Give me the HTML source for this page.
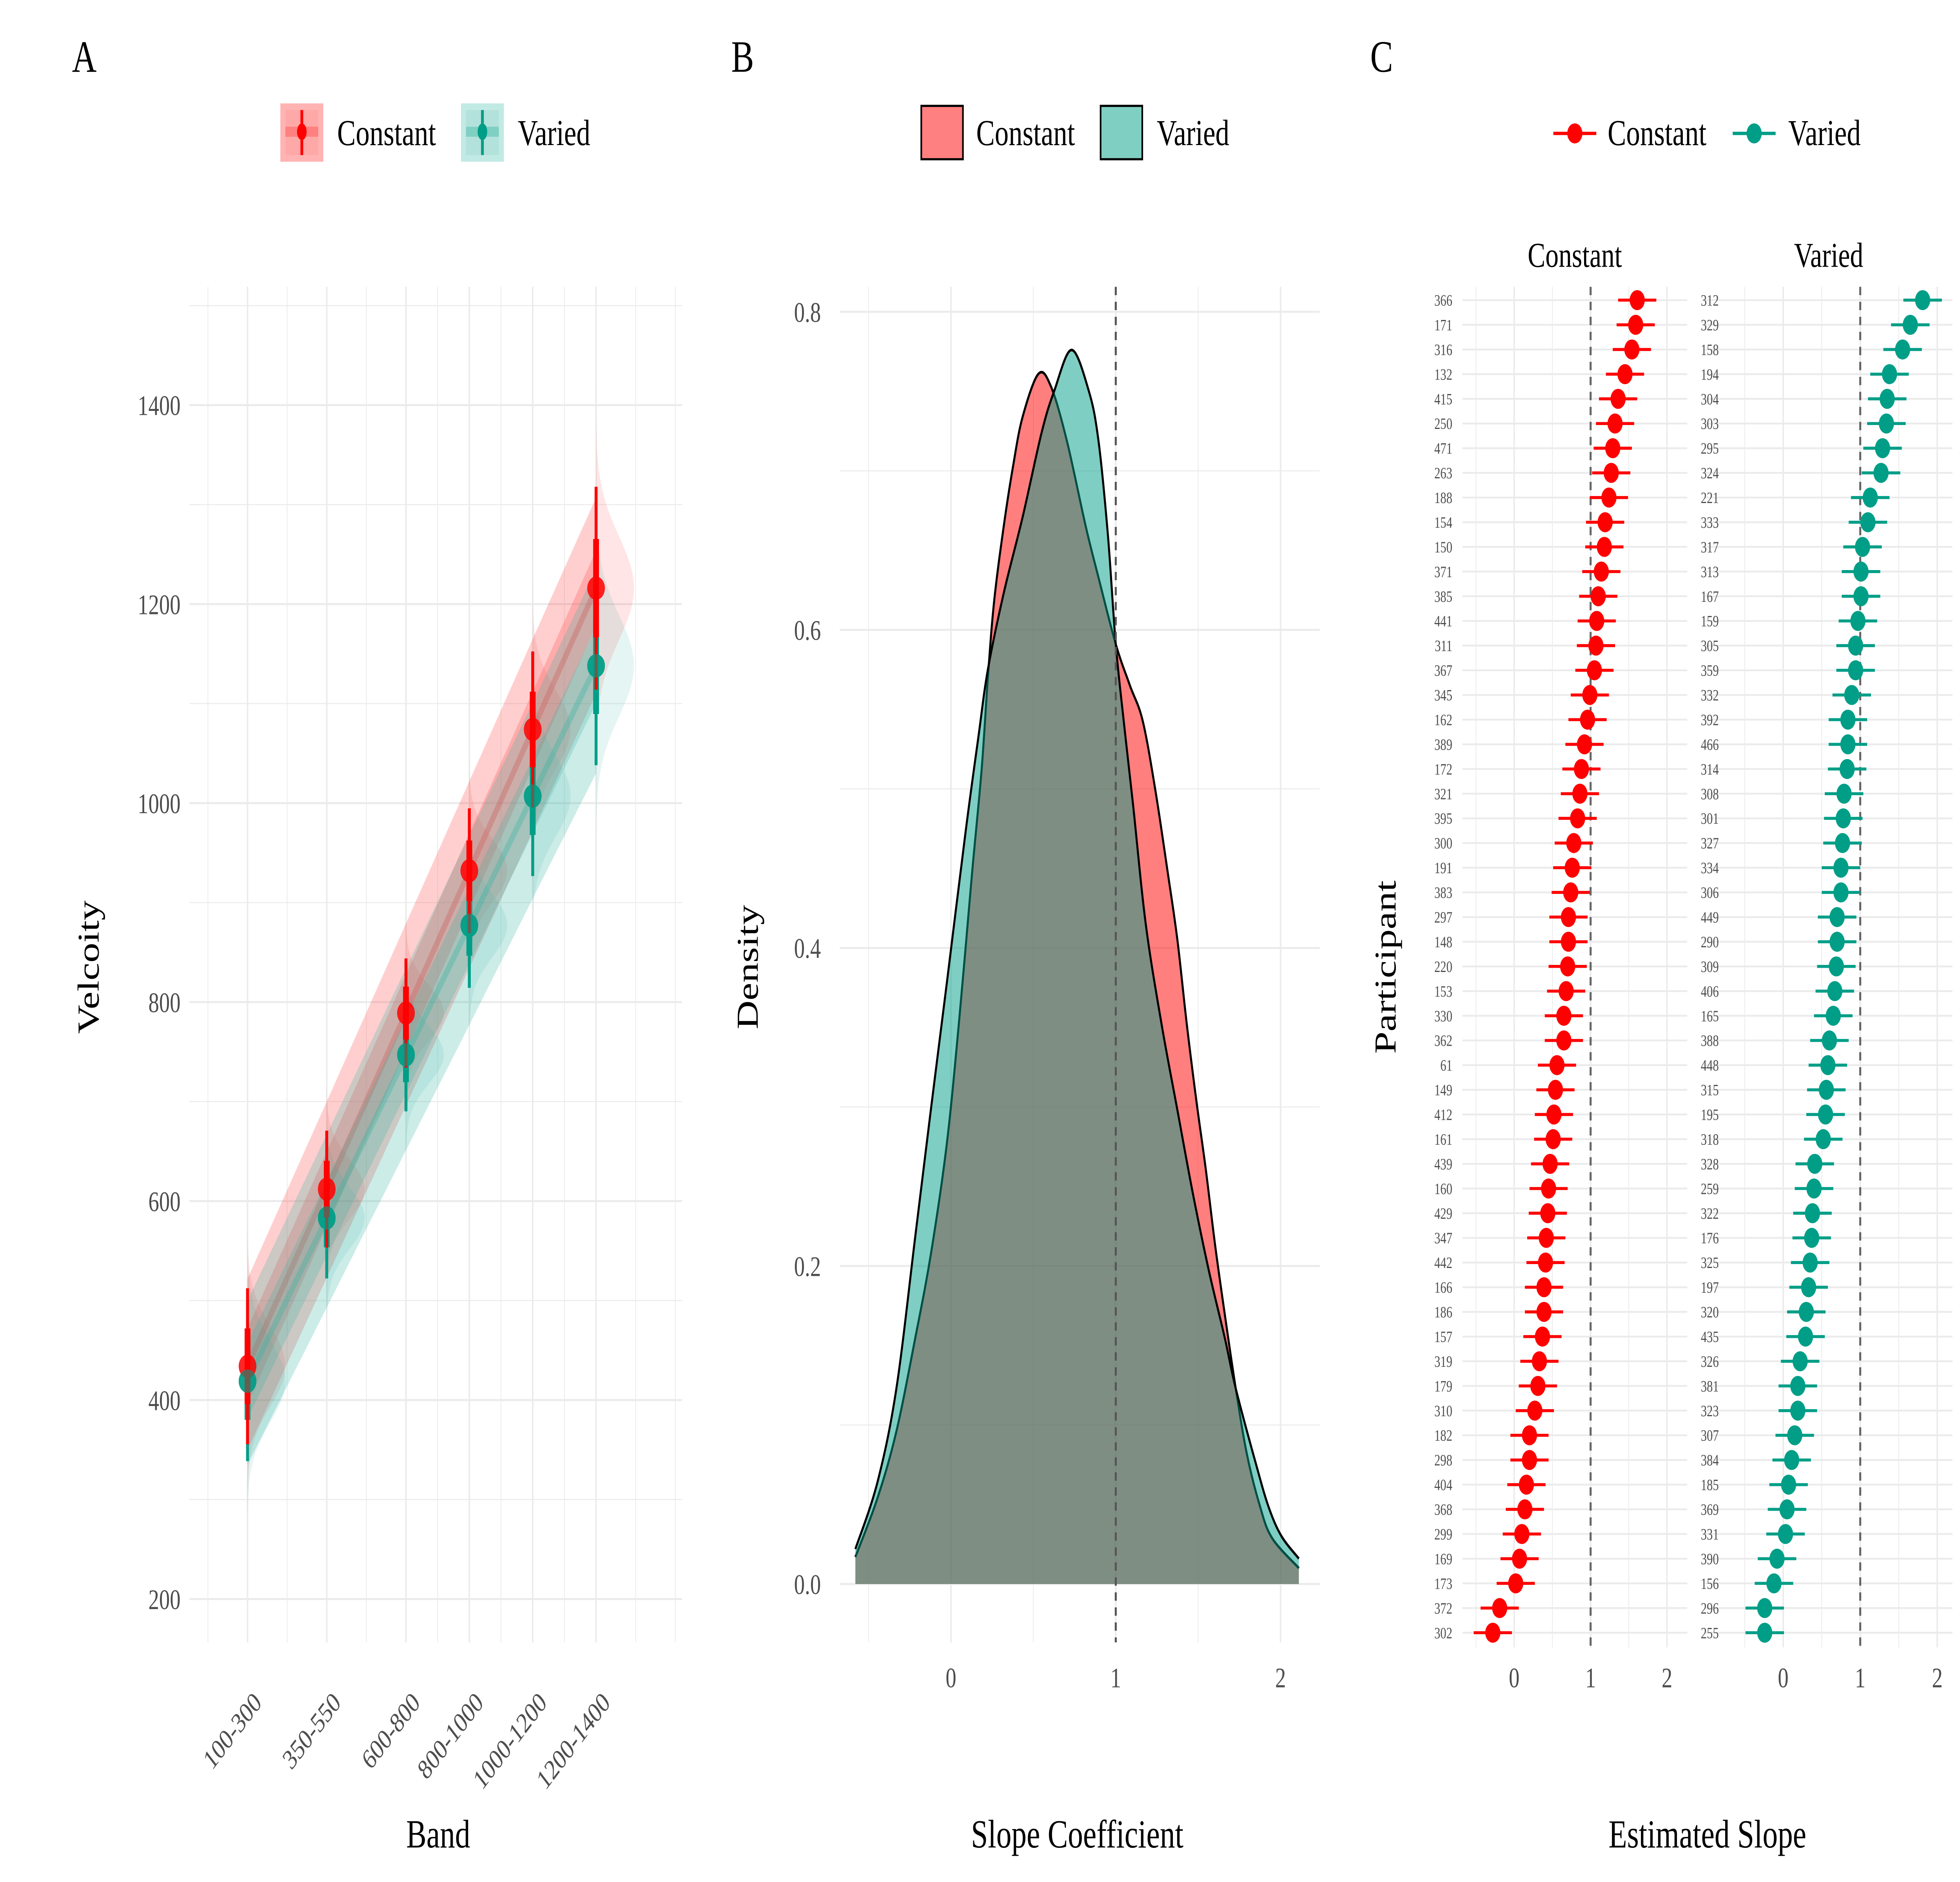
<!DOCTYPE html>
<html><head><meta charset="utf-8">
<style>
html,body{margin:0;padding:0;background:#fff;overflow:hidden;width:100%;height:100%;}
svg{display:block;width:100vw;height:100vh;}
text{font-family:"Liberation Serif","DejaVu Serif",serif;}
</style></head>
<body>
<svg id="fig" xmlns="http://www.w3.org/2000/svg" viewBox="0 0 1552 1128.7" preserveAspectRatio="none">
<rect x="0" y="0" width="1552" height="1128.7" fill="#fff"/>
<g id="panelA"></g>
<g id="panelB"></g>
<g id="panelC"></g>

<text x="57" y="43" font-size="27">A</text>
<text x="579" y="43" font-size="27">B</text>
<text x="1085" y="43" font-size="27">C</text>

<g>
 <g>
  <rect x="222" y="62" width="34" height="35" fill="#FFB3B3"/>
  <rect x="226" y="66" width="26" height="27" fill="#FFA8A8"/>
  <rect x="226" y="76" width="26" height="6" fill="#FF8080"/>
  <line x1="239" y1="66" x2="239" y2="93" stroke="#FF0000" stroke-width="2.2"/>
  <ellipse cx="239" cy="79" rx="3.8" ry="5" fill="#FF0000"/>
  <text x="267" y="87" font-size="22">Constant</text>
 </g>
 <g>
  <rect x="365" y="62" width="34" height="35" fill="#C2EAE4"/>
  <rect x="369" y="66" width="26" height="27" fill="#B2E2DB"/>
  <rect x="369" y="76" width="26" height="6" fill="#80CFC3"/>
  <line x1="382" y1="66" x2="382" y2="93" stroke="#009E87" stroke-width="2.2"/>
  <ellipse cx="382" cy="79" rx="3.8" ry="5" fill="#009E87"/>
  <text x="410" y="87" font-size="22">Varied</text>
 </g>
</g>
<g>
 <g>
  <rect x="729.5" y="63.5" width="33" height="32" fill="#FF8080" stroke="#000" stroke-width="1.3"/>
  <text x="773" y="87" font-size="22">Constant</text>
 </g>
 <g>
  <rect x="871.5" y="63.5" width="33" height="32" fill="#80CFC3" stroke="#000" stroke-width="1.3"/>
  <text x="916" y="87" font-size="22">Varied</text>
 </g>
</g>
<g>
 <g>
  <line x1="1230" y1="80" x2="1264" y2="80" stroke="#FF0000" stroke-width="2"/>
  <circle cx="1247" cy="80" r="6" fill="#FF0000"/>
  <text x="1273" y="87" font-size="22">Constant</text>
 </g>
 <g>
  <line x1="1372" y1="80" x2="1406" y2="80" stroke="#009E87" stroke-width="2"/>
  <circle cx="1389" cy="80" r="6" fill="#009E87"/>
  <text x="1416" y="87" font-size="22">Varied</text>
 </g>
</g>
</svg>

<script>
// ---------------- Panel A data ----------------
const bandLabels = ["100-300","350-550","600-800","800-1000","1000-1200","1200-1400"];
const bandMid = [200,450,700,900,1100,1300];
const conMeans = [434,612,789,932,1074,1216];
const varMeans = [419,583,747,877,1007,1138];
const conSd = [40,30,28,32,40,52];
const varSd = [41,31,29,32,41,51];
const conRibLo = [350,523,696,834,972,1110];
const conRibHi = [522,700,879,1022,1165,1307];
const varRibLo = [335,493,651,777,904,1030];
const varRibHi = [500,667,834,968,1101,1235];
const aYTicks = [200,400,600,800,1000,1200,1400];

// ---------------- Panel B data ----------------
const bXTicks = [0,1,2];
const bYTicks = [0.0,0.2,0.4,0.6,0.8];
const conDensX = [-0.58,-0.446,-0.331,-0.216,-0.121,-0.025,0.052,0.128,0.186,0.224,0.262,0.320,0.377,0.435,0.531,0.607,0.703,0.818,0.895,1.0,1.086,1.163,1.239,1.316,1.374,1.431,1.489,1.546,1.603,1.661,1.728,1.795,1.872,1.948,2.111];
const conDensY = [0.017,0.054,0.096,0.155,0.208,0.277,0.357,0.447,0.512,0.570,0.618,0.665,0.703,0.734,0.761,0.753,0.719,0.665,0.633,0.591,0.565,0.543,0.500,0.447,0.405,0.352,0.304,0.261,0.213,0.170,0.123,0.082,0.050,0.029,0.010];
const varDensX = [-0.58,-0.446,-0.331,-0.216,-0.121,-0.025,0.090,0.167,0.224,0.320,0.435,0.550,0.626,0.732,0.837,0.895,0.952,1.0,1.048,1.105,1.182,1.278,1.374,1.469,1.565,1.661,1.728,1.852,1.929,2.006,2.111];
const varDensY = [0.022,0.064,0.123,0.219,0.299,0.378,0.474,0.533,0.575,0.623,0.671,0.724,0.750,0.776,0.750,0.719,0.660,0.591,0.543,0.490,0.415,0.352,0.298,0.245,0.197,0.155,0.123,0.075,0.048,0.030,0.016];

// ---------------- Panel C data ----------------
const conIds = ["366","171","316","132","415","250","471","263","188","154","150","371","385","441","311","367","345","162","389","172","321","395","300","191","383","297","148","220","153","330","362","61","149","412","161","439","160","429","347","442","166","186","157","319","179","310","182","298","404","368","299","169","173","372","302"];
const conSlopes = [1.61,1.59,1.54,1.45,1.36,1.32,1.29,1.27,1.24,1.19,1.18,1.14,1.10,1.08,1.07,1.05,0.99,0.96,0.92,0.88,0.86,0.83,0.78,0.76,0.74,0.71,0.71,0.70,0.68,0.65,0.65,0.56,0.54,0.52,0.51,0.47,0.45,0.44,0.42,0.41,0.39,0.39,0.37,0.33,0.31,0.27,0.20,0.20,0.16,0.14,0.10,0.07,0.02,-0.19,-0.28];
const varIds = ["312","329","158","194","304","303","295","324","221","333","317","313","167","159","305","359","332","392","466","314","308","301","327","334","306","449","290","309","406","165","388","448","315","195","318","328","259","322","176","325","197","320","435","326","381","323","307","384","185","369","331","390","156","296","255"];
const varSlopes = [1.81,1.65,1.55,1.38,1.35,1.34,1.29,1.27,1.13,1.10,1.03,1.01,1.01,0.97,0.94,0.94,0.89,0.84,0.84,0.83,0.79,0.78,0.77,0.75,0.75,0.70,0.70,0.69,0.67,0.65,0.60,0.58,0.56,0.55,0.52,0.41,0.40,0.38,0.37,0.35,0.33,0.30,0.29,0.22,0.19,0.19,0.15,0.11,0.07,0.05,0.03,-0.08,-0.12,-0.24,-0.24];
const cHalfWidth = 0.25;
const cXTicks = [0,1,2];

const NS = "http://www.w3.org/2000/svg";
function mk(parent, tag, attrs, txt){
  const e = document.createElementNS(NS, tag);
  for (const k in attrs) e.setAttribute(k, attrs[k]);
  if (txt !== undefined) e.textContent = txt;
  parent.appendChild(e);
  return e;
}
const GRID = "#EBEBEB", TICK = "#4D4D4D", RED = "#FF0000", TEAL = "#009E87";

// ================= PANEL A =================
(function(){
  const g = document.getElementById('panelA');
  const xA = v => 196 + (v - 200) * 0.2509;
  const yA = v => 959 - (v - 200) * 0.5967;
  const L = 150, R = 540, T = 172, B = 985;
  [75,325,575,800,1000,1200,1425,1550].forEach(v=>{
    const l = mk(g,'line',{x1:xA(v),x2:xA(v),y1:T,y2:B,stroke:GRID,'stroke-width':0.6});
    
    
  });
  [300,500,700,900,1100,1300,1500].forEach(v=>{
    const l = mk(g,'line',{x1:L,x2:R,y1:yA(v),y2:yA(v),stroke:GRID,'stroke-width':0.6});
    
    
  });
  bandMid.forEach(v=>{
    const l = mk(g,'line',{x1:xA(v),x2:xA(v),y1:T,y2:B,stroke:GRID,'stroke-width':1.2});
    
    
  });
  aYTicks.forEach(v=>{
    const l = mk(g,'line',{x1:L,x2:R,y1:yA(v),y2:yA(v),stroke:GRID,'stroke-width':1.2});
    
    
    const t = mk(g,'text',{x:143,y:yA(v)+6,'text-anchor':'end','font-size':17,fill:TICK},String(v));
    
    
  });
  bandLabels.forEach((lab,i)=>{
    const x = xA(bandMid[i]) + 12, y = 1022;
    const t = mk(g,'text',{x:x,y:y,'text-anchor':'end','font-size':17,fill:TICK,transform:`rotate(-45 ${x} ${y})`},lab);
    
    
  });
  const yt = mk(g,'text',{x:78,y:580,'text-anchor':'middle','font-size':24,transform:'rotate(-90 78 580)'},'Velcoity');
  
  
  const xt = mk(g,'text',{x:347,y:1108,'text-anchor':'middle','font-size':24},'Band');
  
  

  function linfit(ys){
    const n = bandMid.length; let sx=0,sy=0,sxx=0,sxy=0;
    for(let i=0;i<n;i++){sx+=bandMid[i];sy+=ys[i];sxx+=bandMid[i]*bandMid[i];sxy+=bandMid[i]*ys[i];}
    const b=(n*sxy-sx*sy)/(n*sxx-sx*sx), a=(sy-b*sx)/n; return v=>a+b*v;
  }
  function series(means, sd, lo, hi, col, fillOuter, name){
    const sg = mk(g,'g',{});
    
    
    means.forEach((m,i)=>{
      let pts=[]; const xc=xA(bandMid[i]);
      for(let k=-40;k<=40;k++){ const z=k/10; const v=m+z*sd[i]; pts.push([xc+30*Math.exp(-0.5*z*z), yA(v)]); }
      let d=`M${xc},${yA(m-4*sd[i])} `+pts.map(p=>`L${p[0].toFixed(2)},${p[1].toFixed(2)}`).join(' ')+` L${xc},${yA(m+4*sd[i])} Z`;
      const p = mk(sg,'path',{d:d,fill:col,'fill-opacity':0.1});
      
      
    });
    let d='M'+bandMid.map((v,i)=>`${xA(v)},${yA(hi[i])}`).join(' L')+' L'+bandMid.slice().reverse().map((v,j)=>{const i=bandMid.length-1-j;return `${xA(v)},${yA(lo[i])}`;}).join(' L')+' Z';
    const r = mk(sg,'path',{d:d,fill:fillOuter,'fill-opacity':0.25});
    
    
    const f = linfit(means);
    const inner = 'M'+bandMid.map(v=>`${xA(v)},${yA(f(v)+38)}`).join(' L')+' L'+bandMid.slice().reverse().map(v=>`${xA(v)},${yA(f(v)-38)}`).join(' L')+' Z';
    const r2 = mk(sg,'path',{d:inner,fill:fillOuter,'fill-opacity':0.25});
    
    
    const ln = mk(sg,'line',{x1:xA(bandMid[0]),y1:yA(f(bandMid[0])),x2:xA(bandMid[5]),y2:yA(f(bandMid[5])),stroke:fillOuter,'stroke-opacity':0.35,'stroke-width':4});
    
    
    return sg;
  }
  series(conMeans, conSd, conRibLo, conRibHi, RED, '#FF4040', 'constant');
  series(varMeans, varSd, varRibLo, varRibHi, TEAL, '#33B5A3', 'varied');
  function points(means, sd, col, name){
    means.forEach((m,i)=>{
      const x = xA(bandMid[i]);
      const l1 = mk(g,'line',{x1:x,x2:x,y1:yA(m-1.96*sd[i]),y2:yA(m+1.96*sd[i]),stroke:col,'stroke-width':2.3});
      
      
      const l2 = mk(g,'line',{x1:x,x2:x,y1:yA(m-0.95*sd[i]),y2:yA(m+0.95*sd[i]),stroke:col,'stroke-width':4.6});
      
      
      const c = mk(g,'circle',{cx:x,cy:yA(m),r:7,fill:col,'fill-opacity':0.85});
      
      
    });
  }
  points(varMeans, varSd, TEAL, 'varied');
  points(conMeans, conSd, RED, 'constant');
  varMeans.forEach((m,i)=>{
    const c = mk(g,'circle',{cx:xA(bandMid[i]),cy:yA(m),r:7,fill:TEAL,'fill-opacity':0.6});
    
    
  });
})();

// ================= PANEL B =================
(function(){
  const g = document.getElementById('panelB');
  const xB = v => 753 + v * 130.5;
  const yB = d => 950 - d * 953.75;
  const L = 665, R = 1045, T = 172, B = 985;
  [-0.5,0.5,1.5].forEach(v=>{
    const l = mk(g,'line',{x1:xB(v),x2:xB(v),y1:T,y2:B,stroke:GRID,'stroke-width':0.6});
    
    
  });
  [0.1,0.3,0.5,0.7].forEach(v=>{
    const l = mk(g,'line',{x1:L,x2:R,y1:yB(v),y2:yB(v),stroke:GRID,'stroke-width':0.6});
    
    
  });
  bXTicks.forEach(v=>{
    const l = mk(g,'line',{x1:xB(v),x2:xB(v),y1:T,y2:B,stroke:GRID,'stroke-width':1.2});
    
    
    const t = mk(g,'text',{x:xB(v),y:1012,'text-anchor':'middle','font-size':17,fill:TICK},String(v));
    
    
  });
  bYTicks.forEach(v=>{
    const l = mk(g,'line',{x1:L,x2:R,y1:yB(v),y2:yB(v),stroke:GRID,'stroke-width':1.2});
    
    
    const t = mk(g,'text',{x:650,y:yB(v)+6,'text-anchor':'end','font-size':17,fill:TICK},v.toFixed(1));
    
    
  });
  function smooth(xs, ys){
    const p = xs.map((x,i)=>[xB(x), yB(ys[i])]);
    let d = `M${p[0][0]},${p[0][1]}`;
    for(let i=0;i<p.length-1;i++){
      const p0=p[Math.max(0,i-1)], p1=p[i], p2=p[i+1], p3=p[Math.min(p.length-1,i+2)];
      const c1=[p1[0]+(p2[0]-p0[0])/6, p1[1]+(p2[1]-p0[1])/6];
      const c2=[p2[0]-(p3[0]-p1[0])/6, p2[1]-(p3[1]-p1[1])/6];
      d += ` C${c1[0].toFixed(2)},${c1[1].toFixed(2)} ${c2[0].toFixed(2)},${c2[1].toFixed(2)} ${p2[0].toFixed(2)},${p2[1].toFixed(2)}`;
    }
    return {line:d, area: d + ` L${p[p.length-1][0]},${yB(0)} L${p[0][0]},${yB(0)} Z`};
  }
  const cs = smooth(conDensX, conDensY), vs = smooth(varDensX, varDensY);
  const ca = mk(g,'path',{d:cs.area,fill:'#FF0000','fill-opacity':0.5});
  
  
  const cl = mk(g,'path',{d:cs.line,fill:'none',stroke:'#000','stroke-width':1.6});
  
  
  const va = mk(g,'path',{d:vs.area,fill:'#009E87','fill-opacity':0.5});
  
  
  const vl = mk(g,'path',{d:vs.line,fill:'none',stroke:'#000','stroke-width':1.6});
  
  
  const ref = mk(g,'line',{x1:xB(1),x2:xB(1),y1:T,y2:B,stroke:'#555','stroke-width':1.6,'stroke-dasharray':'5,4'});
  
  
  const yt = mk(g,'text',{x:600,y:580,'text-anchor':'middle','font-size':24,transform:'rotate(-90 600 580)'},'Density');
  
  
  const xt = mk(g,'text',{x:853,y:1108,'text-anchor':'middle','font-size':24},'Slope Coefficient');
  
  
})();

// ================= PANEL C =================
(function(){
  const g = document.getElementById('panelC');
  const rowY = i => 180 + i * 14.8;
  function facet(ids, vals, x0, unit, L, R, labelX, col, title, name){
    const fg = mk(g,'g',{});
    
    
    const xs = v => x0 + v*unit;
    const T = 172, B = 988;
    const st = mk(fg,'text',{x:(L+R)/2,y:160,'text-anchor':'middle','font-size':21},title);
    
    
    [-0.5,0.5,1.5].forEach(v=>{
      const l = mk(fg,'line',{x1:xs(v),x2:xs(v),y1:T,y2:B,stroke:GRID,'stroke-width':0.6});
      
      
    });
    cXTicks.forEach(v=>{
      const l = mk(fg,'line',{x1:xs(v),x2:xs(v),y1:T,y2:B,stroke:GRID,'stroke-width':1.2});
      
      
      const t = mk(fg,'text',{x:xs(v),y:1012,'text-anchor':'middle','font-size':17,fill:TICK},String(v));
      
      
    });
    ids.forEach((id,i)=>{
      const l = mk(fg,'line',{x1:L,x2:R,y1:rowY(i),y2:rowY(i),stroke:GRID,'stroke-width':1.1});
      
      
      const t = mk(fg,'text',{x:labelX,y:rowY(i)+3.3,'text-anchor':'end','font-size':9.5,fill:TICK},id);
      
      
    });
    const ref = mk(fg,'line',{x1:xs(1),x2:xs(1),y1:T,y2:B,stroke:'#666','stroke-width':1.6,'stroke-dasharray':'5,4'});
    
    
    vals.forEach((v,i)=>{
      const l = mk(fg,'line',{x1:xs(v-cHalfWidth),x2:xs(v+cHalfWidth),y1:rowY(i),y2:rowY(i),stroke:col,'stroke-width':1.8});
      
      
      const c = mk(fg,'circle',{cx:xs(v),cy:rowY(i),r:6,fill:col});
      
      
    });
  }
  facet(conIds, conSlopes, 1199, 60.5, 1158, 1336, 1150, RED, 'Constant', 'constant');
  facet(varIds, varSlopes, 1412, 61, 1350, 1546, 1361, TEAL, 'Varied', 'varied');
  const yt = mk(g,'text',{x:1105,y:580,'text-anchor':'middle','font-size':24,transform:'rotate(-90 1105 580)'},'Participant');
  
  
  const xt = mk(g,'text',{x:1352,y:1108,'text-anchor':'middle','font-size':24},'Estimated Slope');
  
  
})();
</script>
</body></html>
